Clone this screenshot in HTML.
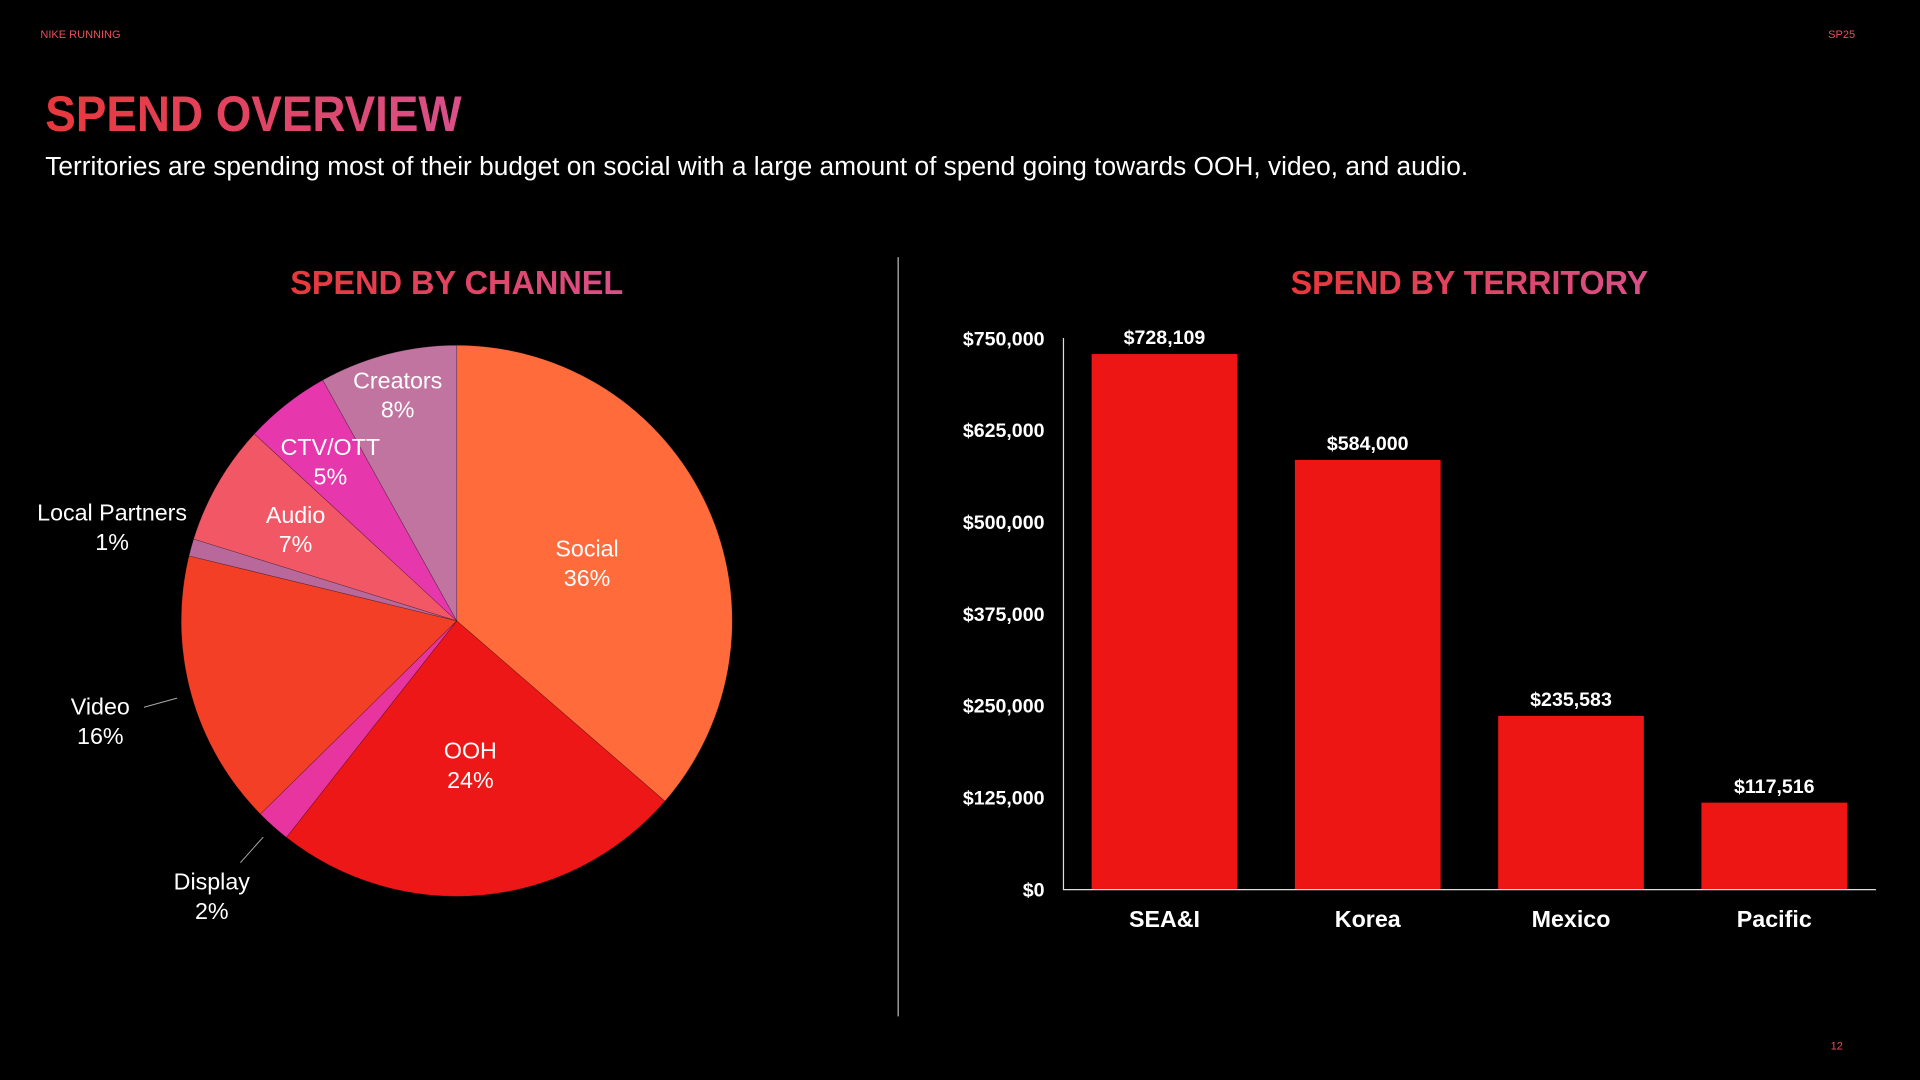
<!DOCTYPE html>
<html><head><meta charset="utf-8"><style>
html,body{margin:0;padding:0;background:#000;width:1920px;height:1080px;overflow:hidden}
svg{display:block;font-family:"Liberation Sans",Arial,sans-serif}
</style></head><body>
<svg id="s" width="1920" height="1080" viewBox="0 0 1568 882">
<defs>
<linearGradient id="tg" x1="0" x2="1" y1="0" y2="0"><stop offset="0" stop-color="#e8383a"/><stop offset="1" stop-color="#d9508a"/></linearGradient>
</defs>
<rect width="1568" height="882" fill="#000"/>
<text x="33" y="31" font-size="9" fill="#e8505a">NIKE RUNNING</text>
<text x="1515" y="31" font-size="9" fill="#e8505a" text-anchor="end">SP25</text>
<text x="1505" y="857" font-size="9" fill="#e8505a" text-anchor="end">12</text>
<text x="37" y="107" font-size="41" font-weight="bold" fill="url(#tg)" textLength="340" lengthAdjust="spacingAndGlyphs">SPEND OVERVIEW</text>
<text x="37" y="143" font-size="21" fill="#fff" textLength="1162" lengthAdjust="spacingAndGlyphs">Territories are spending most of their budget on social with a large amount of spend going towards OOH, video, and audio.</text>
<line x1="733.5" y1="210" x2="733.5" y2="830" stroke="#bbb" stroke-width="1"/>
<text x="373" y="240" font-size="27" font-weight="bold" fill="url(#tg)" text-anchor="middle" textLength="272" lengthAdjust="spacingAndGlyphs">SPEND BY CHANNEL</text>
<text x="1200" y="240" font-size="27" font-weight="bold" fill="url(#tg)" text-anchor="middle" textLength="292" lengthAdjust="spacingAndGlyphs">SPEND BY TERRITORY</text>
<g id="pie"></g>
<g id="pielabels"></g>
<g id="bars"></g>
</svg>
<script>
// Pie data
const channels = ["Social","OOH","Display","Video","Local Partners","Audio","CTV/OTT","Creators"];
const channelPct = [36,24,2,16,1,7,5,8];
// Bar data
const territories = ["SEA&I","Korea","Mexico","Pacific"];
const territorySpend = [728109,584000,235583,117516];
const spendTicks = [0,125000,250000,375000,500000,625000,750000];

const NS="http://www.w3.org/2000/svg";
function mk(tag,attrs,parent){const e=document.createElementNS(NS,tag);for(const k in attrs)e.setAttribute(k,attrs[k]);parent.appendChild(e);return e;}

// ---- pie ----
const sliceColors=["#ff6b3b","#ee1717","#e8349e","#f43f27","#b8689a","#f25766","#e637ad","#c0749f"];
const labelR=[117,117,300,302,292,152,167,192];
const leader=[false,false,true,true,false,false,false,false];
const cx=373,cy=507,R=225;
const pie=document.getElementById('pie');
const pl=document.getElementById('pielabels');
const total=channelPct.reduce((a,b)=>a+b,0);
function pt(a,r){return [cx+r*Math.sin(a),cy-r*Math.cos(a)];}
let acc=0;
channelPct.forEach((v,i)=>{
  const a0=acc/total*2*Math.PI;acc+=v;const a1=acc/total*2*Math.PI;
  const p0=pt(a0,R),p1=pt(a1,R);const large=(a1-a0)>Math.PI?1:0;
  const path=mk('path',{d:`M${cx},${cy}L${p0[0]},${p0[1]}A${R},${R} 0 ${large} 1 ${p1[0]},${p1[1]}Z`,fill:sliceColors[i],stroke:'#00000055','stroke-width':0.5},pie);
  
  
  const am=(a0+a1)/2;const lp=pt(am,labelR[i]);
  if(leader[i]){
    const q0=pt(am,R+12),q1=pt(am,R+40);
    const ln=mk('line',{x1:q0[0],y1:q0[1],x2:q1[0],y2:q1[1],stroke:'#aaa','stroke-width':0.8},pl);
    
    
  }
  const t=mk('text',{x:lp[0],y:lp[1]-4,'font-size':19,fill:'#fff','text-anchor':'middle'},pl);
  
  
  mk('tspan',{x:lp[0],dy:0},t).textContent=channels[i];
  mk('tspan',{x:lp[0],dy:24},t).textContent=v+'%';
});

// ---- bars ----
const bars=document.getElementById('bars');
const x0=868,x1=1532,y0=726,yTop=276,maxV=750000;
const band=(x1-x0)/territories.length,bw=119;
const yS=v=>y0-(v/maxV)*(y0-yTop);
const xC=i=>x0+band*(i+0.5);
const fmt=v=>'$'+v.toLocaleString('en-US');
spendTicks.forEach(v=>{
  const t=mk('text',{x:853,y:yS(v)+6,'font-size':16,'font-weight':'bold',fill:'#fff','text-anchor':'end'},bars);
  
  
  t.textContent=fmt(v);
});
territorySpend.forEach((v,i)=>{
  const r=mk('rect',{x:xC(i)-bw/2,y:yS(v),width:bw,height:y0-yS(v),fill:'#ee1515'},bars);
  
  
  const l=mk('text',{x:xC(i),y:yS(v)-8,'font-size':16,'font-weight':'bold',fill:'#fff','text-anchor':'middle'},bars);
  
  
  l.textContent=fmt(v);
  const c=mk('text',{x:xC(i),y:757,'font-size':19,'font-weight':'bold',fill:'#fff','text-anchor':'middle'},bars);
  
  
  c.textContent=territories[i];
});
const ya=mk('line',{x1:x0+0.5,y1:yTop,x2:x0+0.5,y2:y0,stroke:'#ddd','stroke-width':1},bars);


const xa=mk('line',{x1:x0,y1:y0+0.5,x2:x1,y2:y0+0.5,stroke:'#ddd','stroke-width':1},bars);


</script>
</body></html>
